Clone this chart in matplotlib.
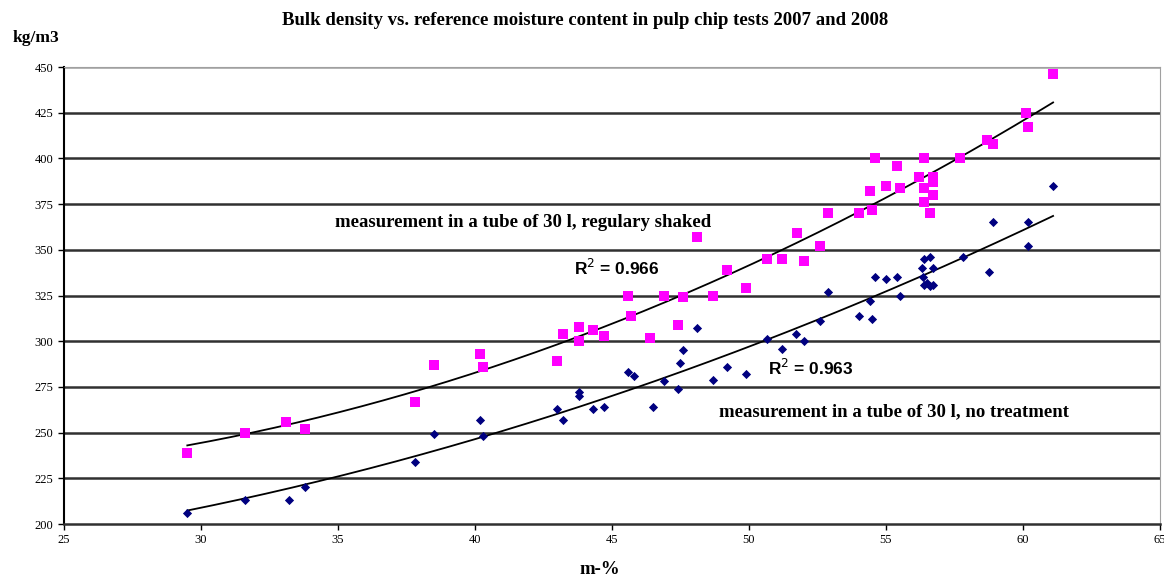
import numpy as np
import matplotlib
matplotlib.use("Agg")
import matplotlib.pyplot as plt

# --- Data ---
# tube of 30 l, regularly shaked (pink squares)
shaked_x = [29.5, 31.6, 33.1, 33.8, 37.8, 38.5, 40.2, 40.3, 43.0, 43.2, 43.8, 43.8,
            44.3, 44.7, 45.6, 45.7, 46.4, 46.9, 47.4, 47.6, 48.1, 48.7, 49.2, 49.9,
            50.65, 51.2, 51.75, 52.0, 52.6, 52.9, 54.0, 54.4, 54.5, 54.6, 55.0, 55.4,
            55.5, 56.2, 56.4, 56.4, 56.4, 56.6, 56.7, 56.7, 56.7, 57.7, 58.7, 58.9,
            60.1, 60.2, 61.1]
shaked_y = [239, 250, 256, 252, 267, 287, 293, 286, 289, 304, 308, 300,
            306, 303, 325, 314, 302, 325, 309, 324, 357, 325, 339, 329,
            345, 345, 359, 344, 352, 370, 370, 382, 372, 400, 385, 396,
            384, 390, 400, 384, 376, 370, 390, 387, 380, 400, 410, 408,
            425, 417, 446]

# tube of 30 l, no treatment (blue diamonds)
untreated_x = [29.5, 31.6, 33.2, 33.8, 37.8, 38.5, 40.2, 40.3, 43.0, 43.2, 43.8, 43.8,
               44.3, 44.7, 45.6, 45.8, 46.5, 46.9, 47.4, 47.5, 47.6, 48.1, 48.7, 49.2,
               49.9, 50.65, 51.2, 51.7, 52.0, 52.6, 52.9, 54.0, 54.4, 54.5, 54.6, 55.0,
               55.4, 55.5, 56.3, 56.35, 56.4, 56.4, 56.5, 56.6, 56.6, 56.7, 56.7, 57.8,
               58.75, 58.9, 60.2, 60.2, 61.1]
untreated_y = [206, 213, 213, 220, 234, 249, 257, 248, 263, 257, 272, 270,
               263, 264, 283, 281, 264, 278, 274, 288, 295, 307, 279, 286,
               282, 301, 296, 304, 300, 311, 327, 314, 322, 312, 335, 334,
               335, 325, 340, 335, 345, 331, 332, 346, 330, 340, 331, 346,
               338, 365, 365, 352, 385]

r2_labels = ["R$^2$ = 0.966", "R$^2$ = 0.963"]

# --- Figure ---
fig = plt.figure(figsize=(11.64, 5.78), dpi=100)
ax = fig.add_axes([0.055, 0.0934, 0.9415, 0.7906])

serif = "Liberation Serif"

for yv in range(225, 451, 25):
    ax.axhline(yv, color="#303030" if yv < 450 else "#a0a0a0", lw=1.8, zorder=1)

ax.scatter(shaked_x, shaked_y, marker="s", s=45, color="#FF00FF", zorder=3, linewidths=0)
ax.scatter(untreated_x, untreated_y, marker="D", s=22, color="#000080", zorder=3, linewidths=0)

# second order polynomial trendlines
for xs, ys in [(shaked_x, shaked_y), (untreated_x, untreated_y)]:
    coef = np.polyfit(xs, ys, 2)
    xx = np.linspace(min(xs), max(xs), 200)
    ax.plot(xx, np.polyval(coef, xx), color="black", lw=1.3, zorder=2)

ax.set_xlim(25, 65)
ax.set_ylim(200, 450)
ax.set_xticks(range(25, 66, 5))
ax.set_yticks(range(200, 451, 25))
ax.tick_params(axis="both", direction="out", length=4, width=1, labelsize=9)
for lab in ax.get_xticklabels() + ax.get_yticklabels():
    lab.set_fontfamily(serif)

ax.spines["left"].set_color("black")
ax.spines["left"].set_linewidth(1.5)
ax.spines["bottom"].set_color("#303030")
ax.spines["bottom"].set_linewidth(1.8)
ax.spines["top"].set_color("#a0a0a0")
ax.spines["right"].set_color("#a0a0a0")

ax.text(34.9, 365, "measurement in a tube of 30 l, regulary shaked", fontsize=13.5,
        fontweight="bold", family=serif, va="center", ha="left")
ax.text(48.9, 261.5, "measurement in a tube of 30 l, no treatment", fontsize=13.5,
        fontweight="bold", family=serif, va="center", ha="left")
ax.text(43.6, 340, r2_labels[0], fontsize=12.5, fontweight="bold",
        family="Liberation Sans", va="center", ha="left")
ax.text(50.7, 285.5, r2_labels[1], fontsize=12.5, fontweight="bold",
        family="Liberation Sans", va="center", ha="left")

fig.text(0.503, 0.965, "Bulk density vs. reference moisture content in pulp chip tests 2007 and 2008",
         fontsize=13.5, fontweight="bold", family=serif, ha="center", va="center")
fig.text(0.011, 0.935, "kg/m3", fontsize=12.5, fontweight="bold", family=serif,
         ha="left", va="center")
fig.text(0.515, 0.014, "m-%", fontsize=13.5, fontweight="bold", family=serif,
         ha="center", va="center")

fig.savefig("out.png", dpi=100)
